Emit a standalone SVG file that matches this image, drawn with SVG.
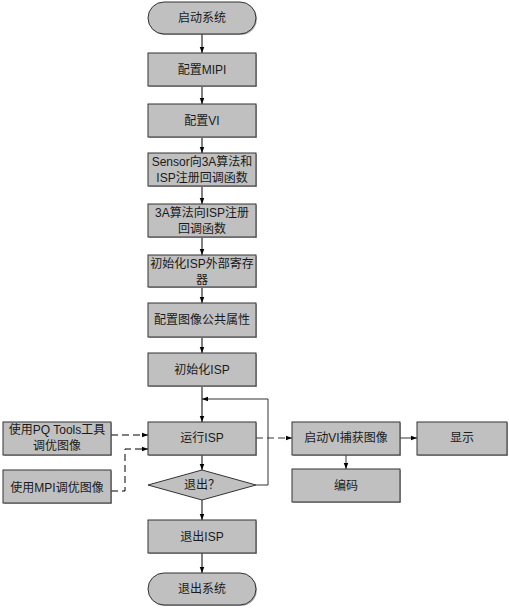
<svg xmlns="http://www.w3.org/2000/svg" width="509" height="609" viewBox="0 0 509 609">
<defs>
<style>
.n{fill:#c0c0c0;stroke:#333;stroke-width:1}
.sh{fill:#777;opacity:0.6}
text{font-family:"Liberation Sans","Noto Sans CJK SC",sans-serif;font-size:12px;fill:#1a1a1a;text-anchor:middle;dominant-baseline:central}
.c{fill:none;stroke:#000;stroke-width:1}
.d{stroke-dasharray:7,4}
.g{stroke:#333}
</style>
<marker id="a" viewBox="0 0 8 8" refX="8" refY="4" markerWidth="6" markerHeight="6" orient="auto" markerUnits="userSpaceOnUse">
<path d="M0,1L8,4L0,7z" fill="#000"/>
</marker>
</defs>
<rect width="509" height="609" fill="#fff"/>
<g id="connectors">
<path class="c" d="M202,34V53" marker-end="url(#a)"/>
<path class="c" d="M202,87V104" marker-end="url(#a)"/>
<path class="c" d="M202,138V153" marker-end="url(#a)"/>
<path class="c" d="M202,187V204" marker-end="url(#a)"/>
<path class="c" d="M202,238V255" marker-end="url(#a)"/>
<path class="c" d="M202,288V303" marker-end="url(#a)"/>
<path class="c" d="M202,338V353" marker-end="url(#a)"/>
<path class="c" d="M202,387V422" marker-end="url(#a)"/>
<path class="c" d="M202,455V470" marker-end="url(#a)"/>
<path class="c" d="M202,500V520" marker-end="url(#a)"/>
<path class="c" d="M202,553V573" marker-end="url(#a)"/>
<path class="c g" d="M256,485H268V399H202" marker-end="url(#a)"/>
<path class="c d" d="M111,435H148" marker-end="url(#a)"/>
<path class="c d" d="M111,491H125V449H148" marker-end="url(#a)"/>
<path class="c d g" d="M256,438H292" marker-end="url(#a)"/>
<path class="c g" d="M400,438H417" marker-end="url(#a)"/>
<path class="c g" d="M346,455V469" marker-end="url(#a)"/>
</g>
<g id="start">
<rect class="sh" x="149" y="3" width="108" height="32" rx="16"/>
<rect class="n" x="148" y="2" width="108" height="32" rx="16"/>
<text x="202" y="18">启动系统</text>
</g>
<g id="mipi">
<rect class="sh" x="149" y="54" width="108" height="33"/>
<rect class="n" x="148" y="53" width="108" height="33"/>
<text x="202" y="70">配置MIPI</text>
</g>
<g id="vi">
<rect class="sh" x="149" y="105" width="108" height="33"/>
<rect class="n" x="148" y="104" width="108" height="33"/>
<text x="202" y="121">配置VI</text>
</g>
<g id="sensor">
<rect class="sh" x="149" y="154" width="108" height="33"/>
<rect class="n" x="148" y="153" width="108" height="33"/>
<text x="202" y="162">Sensor向3A算法和</text>
<text x="202" y="178">ISP注册回调函数</text>
</g>
<g id="alg3a">
<rect class="sh" x="149" y="205" width="108" height="33"/>
<rect class="n" x="148" y="204" width="108" height="33"/>
<text x="202" y="213">3A算法向ISP注册</text>
<text x="202" y="229">回调函数</text>
</g>
<g id="initreg">
<rect class="sh" x="149" y="256" width="108" height="32"/>
<rect class="n" x="148" y="255" width="108" height="32"/>
<text x="202" y="264">初始化ISP外部寄存</text>
<text x="202" y="280">器</text>
</g>
<g id="pubattr">
<rect class="sh" x="149" y="304" width="108" height="34"/>
<rect class="n" x="148" y="303" width="108" height="34"/>
<text x="202" y="320">配置图像公共属性</text>
</g>
<g id="initisp">
<rect class="sh" x="149" y="354" width="108" height="33"/>
<rect class="n" x="148" y="353" width="108" height="33"/>
<text x="202" y="370">初始化ISP</text>
</g>
<g id="runisp">
<rect class="sh" x="149" y="423" width="108" height="33"/>
<rect class="n" x="148" y="422" width="108" height="33"/>
<text x="202" y="438">运行ISP</text>
</g>
<g id="quit">
<path class="n" d="M202,470L256,485L202,500L148,485z"/>
<text x="202" y="485">退出？</text>
</g>
<g id="exitisp">
<rect class="sh" x="149" y="521" width="108" height="33"/>
<rect class="n" x="148" y="520" width="108" height="33"/>
<text x="202" y="537">退出ISP</text>
</g>
<g id="end">
<rect class="sh" x="149" y="574" width="108" height="32" rx="16"/>
<rect class="n" x="148" y="573" width="108" height="32" rx="16"/>
<text x="202" y="589">退出系统</text>
</g>
<g id="pqtools">
<rect class="sh" x="4" y="423" width="108" height="33"/>
<rect class="n" x="3" y="422" width="108" height="33"/>
<text x="57" y="430">使用PQ Tools工具</text>
<text x="57" y="446">调优图像</text>
</g>
<g id="mpi">
<rect class="sh" x="4" y="471" width="108" height="33"/>
<rect class="n" x="3" y="470" width="108" height="33"/>
<text x="57" y="488">使用MPI调优图像</text>
</g>
<g id="capture">
<rect class="sh" x="293" y="423" width="108" height="33"/>
<rect class="n" x="292" y="422" width="108" height="33"/>
<text x="346" y="438">启动VI捕获图像</text>
</g>
<g id="display">
<rect class="sh" x="418" y="423" width="90" height="33"/>
<rect class="n" x="417" y="422" width="90" height="33"/>
<text x="462" y="438">显示</text>
</g>
<g id="encode">
<rect class="sh" x="293" y="470" width="108" height="33"/>
<rect class="n" x="292" y="469" width="108" height="33"/>
<text x="346" y="486">编码</text>
</g>
</svg>
